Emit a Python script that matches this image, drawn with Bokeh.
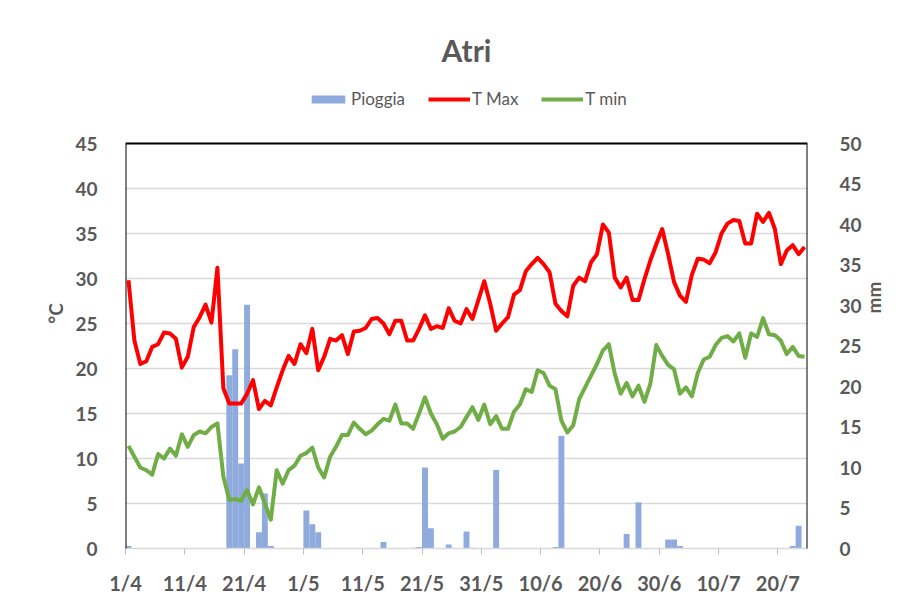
import math
from bokeh.plotting import figure
from bokeh.models import (Range1d, LinearAxis, FixedTicker, Legend, LegendItem,
                          BoxAnnotation)
from bokeh.embed import file_html
from bokeh.resources import INLINE

# ---- data -------------------------------------------------------------
tick_days = [0, 10, 20, 30, 40, 50, 60, 70, 80, 90, 100, 110]
tick_labels = ["1/4", "11/4", "21/4", "1/5", "11/5", "21/5", "31/5",
               "10/6", "20/6", "30/6", "10/7", "20/7"]

t_max = [29.8, 23.1, 20.5, 20.8, 22.4, 22.7, 24.0, 23.9, 23.3, 20.1,
         21.3, 24.6, 25.7, 27.1, 25.1, 31.2, 17.8, 16.1, 16.1, 16.1,
         17.2, 18.7, 15.5, 16.4, 15.9, 17.9, 19.8, 21.4, 20.5, 22.7,
         21.7, 24.4, 19.8, 21.3, 23.3, 23.1, 23.7, 21.6, 24.1, 24.2,
         24.5, 25.5, 25.6, 25.0, 23.8, 25.3, 25.3, 23.1, 23.1, 24.4,
         25.9, 24.4, 24.7, 24.5, 26.7, 25.3, 25.0, 26.6, 25.5, 27.6,
         29.7, 27.2, 24.2, 25.0, 25.7, 28.2, 28.7, 30.8, 31.6, 32.3,
         31.6, 30.7, 27.2, 26.4, 25.8, 29.2, 30.1, 29.7, 31.8, 32.7,
         36.0, 35.1, 30.1, 29.0, 30.1, 27.6, 27.6, 29.9, 32.0, 33.8,
         35.5, 32.7, 29.6, 28.1, 27.4, 30.4, 32.2, 32.1, 31.7, 32.9,
         35.0, 36.1, 36.5, 36.4, 33.9, 33.9, 37.2, 36.3, 37.3, 35.5,
         31.6, 33.1, 33.7, 32.7, 33.5]

t_min = [11.4, 10.2, 9.0, 8.7, 8.2, 10.5, 10.0, 11.1, 10.3, 12.7,
         11.3, 12.6, 13.0, 12.8, 13.5, 13.9, 8.0, 5.4, 5.5, 5.3,
         6.5, 4.9, 6.8, 5.0, 3.2, 8.7, 7.2, 8.7, 9.2, 10.3,
         10.6, 11.2, 9.0, 7.9, 10.2, 11.3, 12.6, 12.6, 14.0, 13.3,
         12.7, 13.1, 13.8, 14.4, 14.2, 16.0, 13.9, 13.9, 13.3, 15.0,
         16.8, 15.0, 13.8, 12.2, 12.8, 13.0, 13.5, 14.6, 15.7, 14.3,
         16.0, 13.8, 14.7, 13.3, 13.3, 15.2, 16.0, 17.7, 17.4, 19.8,
         19.5, 18.1, 17.7, 14.2, 12.9, 13.7, 16.6, 17.9, 19.2, 20.5,
         22.0, 22.7, 19.4, 17.2, 18.4, 16.9, 18.1, 16.3, 18.3, 22.6,
         21.4, 20.4, 19.9, 17.2, 17.9, 16.9, 19.5, 21.0, 21.3, 22.6,
         23.4, 23.6, 23.0, 23.9, 21.2, 23.9, 23.5, 25.6, 23.8, 23.7,
         23.1, 21.6, 22.4, 21.4, 21.3]

pioggia = [0.3, 0, 0, 0, 0, 0, 0, 0, 0, 0,
           0, 0, 0, 0, 0, 0, 0, 21.4, 24.6, 10.5,
           30.1, 0, 2.0, 6.8, 0.3, 0, 0, 0, 0, 0,
           4.7, 3.0, 2.0, 0, 0, 0, 0, 0, 0, 0,
           0, 0, 0, 0.8, 0, 0, 0, 0, 0.1, 0.2,
           10.0, 2.5, 0, 0, 0.5, 0, 0, 2.1, 0.1, 0,
           0, 0, 9.7, 0, 0, 0, 0, 0, 0, 0,
           0, 0, 0.2, 13.9, 0, 0, 0, 0, 0, 0,
           0, 0, 0, 0, 1.8, 0, 5.7, 0, 0, 0,
           0, 1.1, 1.1, 0.3, 0, 0, 0, 0, 0, 0,
           0, 0, 0, 0, 0, 0, 0, 0, 0, 0,
           0, 0, 0.3, 2.8, 0]

t_axis_max = 45
mm_axis_max = 50

n_days = len(t_max)
x = [i + 0.5 for i in range(n_days)]

FONT = "Lato"
GREY = "#595959"

# layout (pixels): plot box 125..807 x 143..548, legend band above it
PX_PER_DEG = 9.0
FRAME_TOP_PAD = 65                       # legend band inside the frame
frame_h = 405 + FRAME_TOP_PAD
y_top = frame_h / PX_PER_DEG             # degrees shown incl. legend band
mm_top = y_top * mm_axis_max / t_axis_max

p = figure(width=900, height=600, output_backend="svg", toolbar_location=None,
           x_range=Range1d(0, n_days), y_range=Range1d(0, y_top),
           min_border_left=125, min_border_right=93,
           min_border_top=548 - frame_h, min_border_bottom=52)
p.outline_line_color = None
p.background_fill_color = "white"
p.border_fill_color = "white"
p.extra_y_ranges = {"mm": Range1d(0, mm_top)}

# grid
p.xgrid.grid_line_color = None
p.ygrid.ticker = FixedTicker(ticks=list(range(0, t_axis_max + 1, 5)))
p.ygrid.grid_line_color = "#D9D9D9"
p.ygrid.grid_line_width = 1.5

bars = p.vbar(x=x, top=pioggia, width=1.0, y_range_name="mm",
              fill_color="#8FAADC", line_color=None)
lmax = p.line(x, t_max, line_width=4, line_color="#FF0000", line_join="round")
lmin = p.line(x, t_min, line_width=4, line_color="#70AD47", line_join="round")

# black plot-area border (top, left, right)
p.add_layout(BoxAnnotation(left=0, right=n_days, top=t_axis_max, bottom=-2,
                           fill_alpha=0, line_color="black", line_alpha=1.0,
                           line_width=2))

# x axis
xa = p.xaxis[0]
xa.ticker = FixedTicker(ticks=tick_days)
xa.major_label_overrides = {d: lab for d, lab in zip(tick_days, tick_labels)}
xa.minor_tick_line_color = None
xa.major_tick_in = 0
xa.major_tick_out = 6
xa.major_tick_line_color = "#BFBFBF"
xa.axis_line_color = "#D9D9D9"
xa.axis_line_width = 1.5
xa.major_label_standoff = 16
xa.major_label_text_font = FONT
xa.major_label_text_font_size = "20px"
xa.major_label_text_font_style = "bold"
xa.major_label_text_color = GREY

# left axis
ya = p.yaxis[0]
ya.ticker = FixedTicker(ticks=list(range(0, t_axis_max + 1, 5)))
ya.axis_label = "°C"
ya.minor_tick_line_color = None
ya.major_tick_line_color = None
ya.axis_line_color = None
ya.major_label_standoff = 22
ya.axis_label_standoff = 5
ya.major_label_text_font = FONT
ya.major_label_text_font_size = "19px"
ya.major_label_text_font_style = "bold"
ya.major_label_text_color = GREY
ya.axis_label_text_font = FONT
ya.axis_label_text_font_size = "19px"
ya.axis_label_text_font_style = "bold"
ya.axis_label_text_color = GREY

# right axis
yr = LinearAxis(y_range_name="mm",
                ticker=FixedTicker(ticks=list(range(0, mm_axis_max + 1, 5))),
                axis_label="mm")
yr.minor_tick_line_color = None
yr.major_tick_line_color = None
yr.axis_line_color = None
yr.major_label_standoff = 26
yr.axis_label_standoff = 9
yr.axis_label_orientation = math.pi / 2
yr.major_label_text_font = FONT
yr.major_label_text_font_size = "19px"
yr.major_label_text_font_style = "bold"
yr.major_label_text_color = GREY
yr.axis_label_text_font = FONT
yr.axis_label_text_font_size = "19px"
yr.axis_label_text_font_style = "bold"
yr.axis_label_text_color = GREY
p.add_layout(yr, "right")

legend = Legend(items=[LegendItem(label="Pioggia", renderers=[bars]),
                       LegendItem(label="T Max", renderers=[lmax]),
                       LegendItem(label="T min", renderers=[lmin])],
                orientation="horizontal", location=(182, frame_h - 31),
                border_line_color=None, background_fill_alpha=0,
                label_text_font=FONT, label_text_font_size="17px",
                label_text_color=GREY, glyph_width=42, glyph_height=10,
                label_standoff=2, spacing=23, margin=0, padding=0)
p.add_layout(legend)

# title
p.title.text = "Atri"
p.title.align = "center"
p.title.standoff = 22
p.title.text_font = FONT
p.title.text_font_size = "30px"
p.title.text_font_style = "bold"
p.title.text_color = GREY

open("out.html", "w").write(file_html(p, INLINE))
